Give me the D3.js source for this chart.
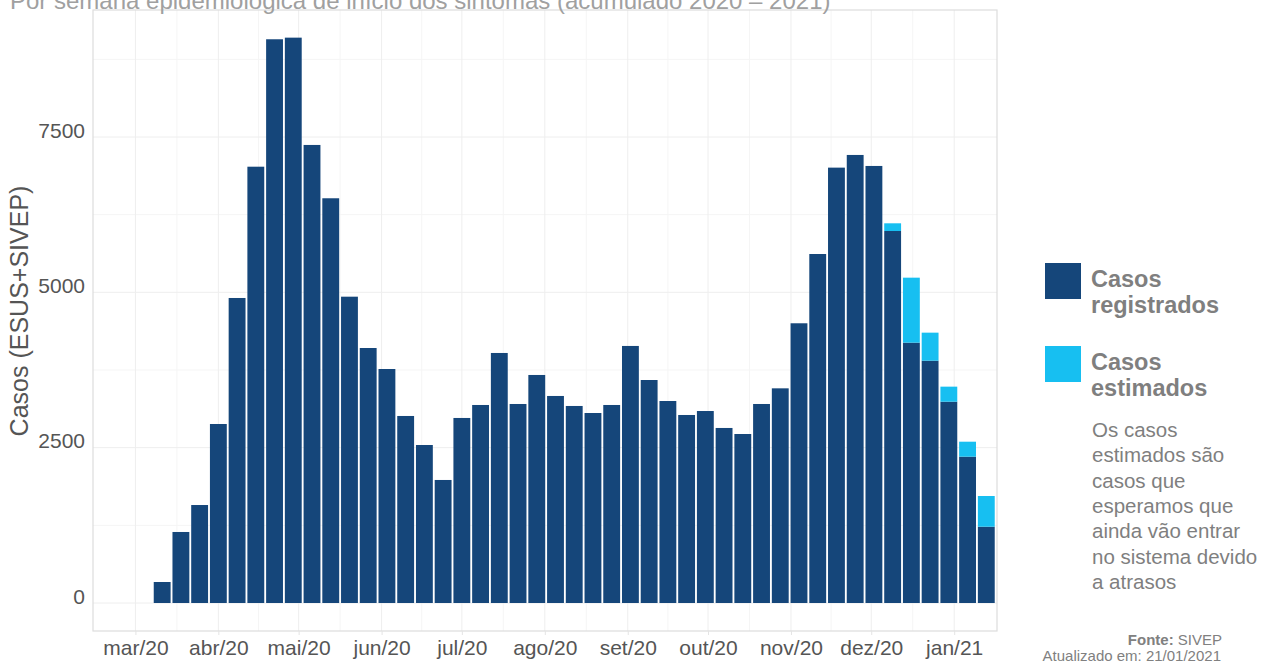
<!DOCTYPE html>
<html>
<head>
<meta charset="utf-8">
<script src="https://cdn.jsdelivr.net/npm/d3@7"></script>
<style>
  html, body { margin: 0; padding: 0; background: #ffffff; }
  svg { display: block; }
  text { font-family: "Liberation Sans", Arial, sans-serif; }
</style>
</head>
<body>
<svg id="chart" width="1278" height="663"></svg>
<script>
// ---- data ----
const weekStarts = [
  "2020-03-08","2020-03-15","2020-03-22","2020-03-29","2020-04-05","2020-04-12","2020-04-19","2020-04-26",
  "2020-05-03","2020-05-10","2020-05-17","2020-05-24","2020-05-31","2020-06-07","2020-06-14","2020-06-21",
  "2020-06-28","2020-07-05","2020-07-12","2020-07-19","2020-07-26","2020-08-02","2020-08-09","2020-08-16",
  "2020-08-23","2020-08-30","2020-09-06","2020-09-13","2020-09-20","2020-09-27","2020-10-04","2020-10-11",
  "2020-10-18","2020-10-25","2020-11-01","2020-11-08","2020-11-15","2020-11-22","2020-11-29","2020-12-06",
  "2020-12-13","2020-12-20","2020-12-27","2021-01-03","2021-01-10"
];
const casosRegistrados = [
  338, 1143, 1577, 2881, 4909, 7022, 9073, 9099,
  7372, 6514, 4930, 4104, 3766, 3010, 2543, 1980,
  2978, 3187, 4024, 3203, 3670, 3332, 3171, 3058,
  3187, 4137, 3589, 3251, 3026, 3090, 2817, 2720,
  3203, 3455, 4502, 5617, 7007, 7211, 7034, 5987,
  4190, 3900, 3240, 2355, 1228
];
const casosEstimados = [
  0, 0, 0, 0, 0, 0, 0, 0,
  0, 0, 0, 0, 0, 0, 0, 0,
  0, 0, 0, 0, 0, 0, 0, 0,
  0, 0, 0, 0, 0, 0, 0, 0,
  0, 0, 0, 0, 0, 0, 0, 124,
  1046, 451, 242, 241, 494
];
const monthTicks = ["2020-03-01","2020-04-01","2020-05-01","2020-06-01","2020-07-01","2020-08-01",
                    "2020-09-01","2020-10-01","2020-11-01","2020-12-01","2021-01-01"];
const monthLabels = ["mar/20","abr/20","mai/20","jun/20","jul/20","ago/20","set/20","out/20","nov/20","dez/20","jan/21"];
const yTicks = [0, 2500, 5000, 7500];
const yMinorTicks = [1250, 3750, 6250, 8750];
const seriesNames = ["Casos registrados", "Casos estimados"];
const seriesColors = ["#15467a", "#17bff1"];

// ---- layout ----
const svg = d3.select("#chart");
const W = 1278, H = 663;
const panel = { left: 93, right: 997, top: 10, bottom: 631 };
const parse = d3.utcParse("%Y-%m-%d");
const DAY = 86400000;

svg.append("rect").attr("width", W).attr("height", H).attr("fill", "#fff");

const x = d3.scaleUtc()
  .domain([new Date(Date.UTC(2020,1,14,3,36)), new Date(Date.UTC(2021,0,17))])
  .range([panel.left, panel.right]);
const y = d3.scaleLinear()
  .domain([-450.6, 9544])
  .range([panel.bottom, panel.top]);

const g = svg.append("g");

// minor gridlines
const majorDates = monthTicks.map(parse);
const minorDates = d3.pairs(majorDates).map(([a, b]) => new Date((+a + +b) / 2));
g.append("g").selectAll("line").data(minorDates).join("line")
  .attr("x1", d => x(d)).attr("x2", d => x(d))
  .attr("y1", panel.top).attr("y2", panel.bottom)
  .attr("stroke", "#f5f5f5").attr("stroke-width", 1);
g.append("g").selectAll("line").data(yMinorTicks).join("line")
  .attr("x1", panel.left).attr("x2", panel.right)
  .attr("y1", d => y(d)).attr("y2", d => y(d))
  .attr("stroke", "#f5f5f5").attr("stroke-width", 1);
// major gridlines
g.append("g").selectAll("line").data(majorDates).join("line")
  .attr("x1", d => x(d)).attr("x2", d => x(d))
  .attr("y1", panel.top).attr("y2", panel.bottom)
  .attr("stroke", "#eeeeee").attr("stroke-width", 1);
g.append("g").selectAll("line").data(yTicks).join("line")
  .attr("x1", panel.left).attr("x2", panel.right)
  .attr("y1", d => y(d)).attr("y2", d => y(d))
  .attr("stroke", "#eeeeee").attr("stroke-width", 1);

// panel border
g.append("rect")
  .attr("x", panel.left).attr("y", panel.top)
  .attr("width", panel.right - panel.left).attr("height", panel.bottom - panel.top)
  .attr("fill", "none").attr("stroke", "#dddddd").attr("stroke-width", 1.2);

// stacked bars
const rows = weekStarts.map((d, i) => ({
  date: parse(d), registrados: casosRegistrados[i], estimados: casosEstimados[i]
}));
const stack = d3.stack().keys(["registrados", "estimados"])(rows);
const halfW = 0.9 * 7 * DAY / 2;
const center = d => +d.data.date + 3 * DAY;
g.append("g").selectAll("g").data(stack).join("g")
  .attr("fill", (s, i) => seriesColors[i])
  .selectAll("rect").data(s => s.filter(d => d[1] > d[0])).join("rect")
  .attr("x", d => x(new Date(center(d) - halfW)))
  .attr("width", d => x(new Date(center(d) + halfW)) - x(new Date(center(d) - halfW)))
  .attr("y", d => y(d[1]))
  .attr("height", d => y(d[0]) - y(d[1]));

// axes
const xAxis = d3.axisBottom(x).tickValues(majorDates)
  .tickFormat((d, i) => monthLabels[i]).tickSize(4).tickPadding(20);
const gx = svg.append("g").attr("transform", `translate(0,${panel.bottom})`).call(xAxis);
gx.select(".domain").remove();
gx.selectAll(".tick line").attr("stroke", "#e4e4e4");
gx.selectAll(".tick text").attr("fill", "#555").attr("font-size", 21)
  .attr("font-family", "Liberation Sans, Arial, sans-serif").attr("y", 24).attr("dy", 0);

const yAxis = d3.axisLeft(y).tickValues(yTicks).tickFormat(d3.format("d")).tickSize(0).tickPadding(8);
const gy = svg.append("g").attr("transform", `translate(${panel.left},0)`).call(yAxis);
gy.select(".domain").remove();
gy.selectAll(".tick text").attr("fill", "#555").attr("font-size", 21)
  .attr("font-family", "Liberation Sans, Arial, sans-serif").attr("dy", 0);

// y title
svg.append("text")
  .attr("transform", `translate(33,311) rotate(-90)`)
  .attr("text-anchor", "middle")
  .attr("dy", "-0.2em")
  .attr("fill", "#555").attr("font-size", 25)
  .text("Casos (ESUS+SIVEP)");

// title (cut off at top, as in the original)
svg.append("text")
  .attr("x", 10).attr("y", 9)
  .attr("fill", "#a0a0a0").attr("font-size", 24)
  .text("Por semana epidemiológica de início dos sintomas (acumulado 2020 – 2021)");

// legend
const lg = svg.append("g");
const legendItems = [
  { name: seriesNames[0], lines: ["Casos", "registrados"], color: seriesColors[0], top: 263 },
  { name: seriesNames[1], lines: ["Casos", "estimados"], color: seriesColors[1], top: 346 }
];
legendItems.forEach(it => {
  lg.append("rect").attr("x", 1045).attr("y", it.top).attr("width", 36).attr("height", 36).attr("fill", it.color);
  it.lines.forEach((ln, j) => {
    lg.append("text").attr("x", 1091).attr("y", it.top + 24 + j * 26)
      .attr("fill", "#7f7f7f").attr("font-size", 23.5).attr("font-weight", "bold").text(ln);
  });
});
const note = ["Os casos", "estimados são", "casos que", "esperamos que", "ainda vão entrar", "no sistema devido", "a atrasos"];
note.forEach((ln, j) => {
  lg.append("text").attr("x", 1092).attr("y", 437 + j * 25.3)
    .attr("fill", "#7f7f7f").attr("font-size", 20.5).text(ln);
});

// source
const src = svg.append("text").attr("x", 1222).attr("y", 645).attr("text-anchor", "end")
  .attr("fill", "#808080").attr("font-size", 15);
src.append("tspan").attr("font-weight", "bold").text("Fonte:");
src.append("tspan").text(" SIVEP");
svg.append("text").attr("x", 1221).attr("y", 661).attr("text-anchor", "end")
  .attr("fill", "#808080").attr("font-size", 15).text("Atualizado em: 21/01/2021");
</script>
</body>
</html>
